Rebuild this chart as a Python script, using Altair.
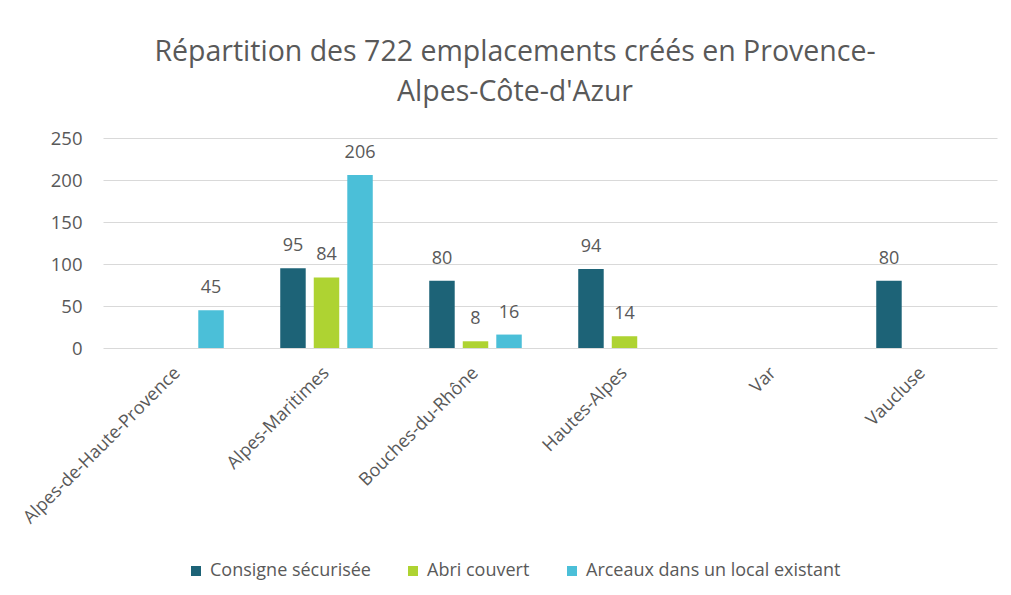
import altair as alt
import pandas as pd

departements = ["Alpes-de-Haute-Provence", "Alpes-Maritimes", "Bouches-du-Rhône",
                "Hautes-Alpes", "Var", "Vaucluse"]
series = ["Consigne sécurisée", "Abri couvert", "Arceaux dans un local existant"]
consigne = [0, 95, 80, 94, 0, 80]
abri = [0, 84, 8, 14, 0, 0]
arceaux = [45, 206, 16, 0, 0, 0]
colors = ["#1d6377", "#aed332", "#4bbfd8"]
y_ticks = [0, 50, 100, 150, 200, 250]

rows = []
for s, vals in zip(series, [consigne, abri, arceaux]):
    for d, v in zip(departements, vals):
        if v > 0:
            rows.append({"dept": d, "serie": s, "val": v})
df = pd.DataFrame(rows)

FONT = "Open Sans"
GREY = "#595959"

x = alt.X("dept:N", sort=departements,
          scale=alt.Scale(domain=departements, paddingInner=0.325, paddingOuter=0.1625),
          axis=alt.Axis(title=None, labelAngle=-45, labelAlign="right", labelBaseline="middle",
                        labelFontSize=18, labelColor=GREY, labelFont=FONT, labelPadding=22,
                        labelLimit=0, domain=False, ticks=False, grid=False))
xo = alt.XOffset("serie:N", sort=series,
                 scale=alt.Scale(domain=series, paddingInner=0.24, paddingOuter=0.12))
y = alt.Y("val:Q", scale=alt.Scale(domain=[0, 250], nice=False),
          axis=alt.Axis(title=None, values=y_ticks, labelFontSize=18.5, labelColor=GREY,
                        labelFont=FONT, labelPadding=21, domain=False, ticks=False,
                        grid=True, gridColor="#d9d9d9", gridWidth=1))

base = alt.Chart(df).encode(x=x, xOffset=xo, y=y)

bars = base.mark_bar().encode(
    color=alt.Color("serie:N", sort=series,
                    scale=alt.Scale(domain=series, range=colors),
                    legend=alt.Legend(title=None, orient="none", legendX=84, legendY=424,
                                      direction="horizontal", symbolType="square",
                                      symbolSize=100, symbolStrokeWidth=0,
                                      labelFontSize=18, labelFont=FONT, labelColor=GREY,
                                      labelLimit=0, labelOffset=5, columnPadding=33))
)
labels = base.mark_text(font=FONT, fontSize=18, color=GREY, dy=-17,
                        baseline="alphabetic", align="center").encode(text="val:Q")

chart = alt.layer(bars, labels).properties(
    width=894, height=210,
    autosize=alt.AutoSizeParams(type="none"),
    padding={"left": 95, "top": 130, "right": 6, "bottom": 239},
    background="white",
    title=alt.Title(["Répartition des 722 emplacements créés en Provence-", "Alpes-Côte-d'Azur"],
                    font=FONT, fontSize=28.5, fontWeight="normal", color=GREY,
                    anchor="middle", frame="group", dx=-35, lineHeight=40, offset=23)
).configure_view(stroke=None)

chart.save("out.html", embed_options={"renderer": "svg", "actions": False})
